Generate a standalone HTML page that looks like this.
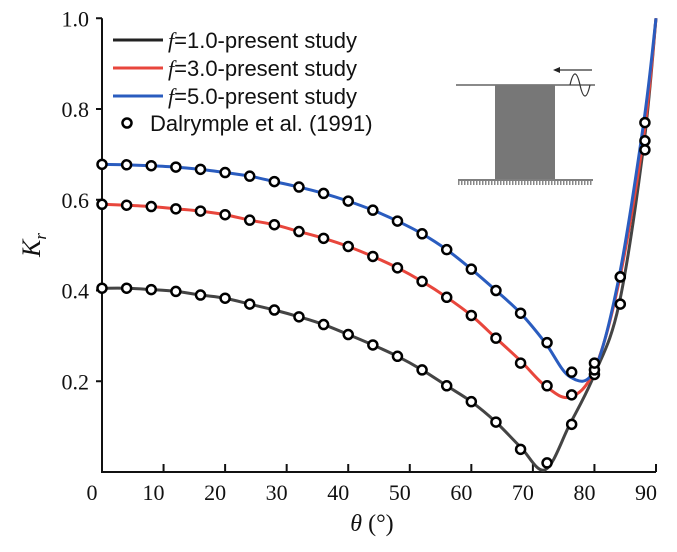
<!DOCTYPE html>
<html><head><meta charset="utf-8"><style>
body{margin:0;background:#fff}
svg text{font-family:"Liberation Serif",serif;fill:#111}
svg .lg{font-family:"Liberation Sans",sans-serif}
</style></head><body>
<svg id="c" width="677" height="547">
<g id="plot"></g>
<g>
 <line x1="113" y1="40" x2="163" y2="40" stroke="#222" stroke-width="3"/>
 <text class="lg" x="168" y="48" font-size="22"><tspan font-style="italic" font-family="Liberation Serif">f</tspan>=1.0-present study</text>
 <line x1="113" y1="68" x2="163" y2="68" stroke="#e8463c" stroke-width="3"/>
 <text class="lg" x="168" y="76" font-size="22"><tspan font-style="italic" font-family="Liberation Serif">f</tspan>=3.0-present study</text>
 <line x1="113" y1="96" x2="163" y2="96" stroke="#2a5cbf" stroke-width="3"/>
 <text class="lg" x="168" y="104" font-size="22"><tspan font-style="italic" font-family="Liberation Serif">f</tspan>=5.0-present study</text>
 <circle cx="127" cy="123" r="4.5" fill="#fff" stroke="#000" stroke-width="2.5"/>
 <text class="lg" x="150" y="131" font-size="22">Dalrymple et al. (1991)</text>
</g>
<g>
 <line x1="456" y1="85" x2="595" y2="85" stroke="#444" stroke-width="1.2"/>
 <rect x="495" y="85" width="60" height="94" fill="#777"/>
 <line x1="458" y1="180" x2="593" y2="180" stroke="#555" stroke-width="1.5"/>
 <line x1="458" y1="183" x2="593" y2="183" stroke="#888" stroke-width="4" stroke-dasharray="1.5 1.5"/>
 <line x1="555" y1="70" x2="592" y2="70" stroke="#333" stroke-width="1.2"/>
 <path d="M553 70 l7 -3 v6z" fill="#222"/>
 <path d="M570 85 q5 -22 10 0 t10 0" fill="none" stroke="#333" stroke-width="1.2"/>
</g>
</svg>
<script>
const angles=[0,4,8,12,16,20,24,28,32,36,40,44,48,52,56,60,64,68,72,76,80,84,88,90];
const kr1=[0.405,0.405,0.402,0.398,0.39,0.383,0.37,0.357,0.342,0.325,0.303,0.28,0.255,0.225,0.19,0.155,0.11,0.055,0.005,0.105,0.215,0.37,0.72,1.0];
const kr3=[0.59,0.588,0.585,0.58,0.575,0.567,0.555,0.545,0.53,0.515,0.497,0.475,0.45,0.42,0.385,0.345,0.295,0.245,0.19,0.165,0.225,0.42,0.74,1.0];
const kr5=[0.678,0.677,0.675,0.672,0.667,0.66,0.652,0.64,0.628,0.614,0.597,0.577,0.553,0.525,0.49,0.447,0.4,0.35,0.285,0.21,0.225,0.43,0.77,1.0];
const expAngles=[0,4,8,12,16,20,24,28,32,36,40,44,48,52,56,60,64,68,72.3,76.3,80,84.2,88.2];
const exp1=[0.405,0.405,0.402,0.398,0.39,0.383,0.37,0.357,0.342,0.325,0.303,0.28,0.255,0.225,0.19,0.155,0.11,0.05,0.02,0.105,0.215,0.37,0.71];
const exp3=[0.59,0.588,0.585,0.58,0.575,0.567,0.555,0.545,0.53,0.515,0.497,0.475,0.45,0.42,0.385,0.345,0.295,0.24,0.19,0.17,0.225,0.43,0.73];
const exp5=[0.678,0.677,0.675,0.672,0.667,0.66,0.652,0.64,0.628,0.614,0.597,0.577,0.553,0.525,0.49,0.447,0.4,0.35,0.285,0.22,0.24,0.43,0.77];
const xTicks=[0,10,20,30,40,50,60,70,80,90];
const yTicks=[0.2,0.4,0.6,0.8,1.0];
const X=a=>102+a*(656-102)/90, Y=v=>472-v*453.75;
const NS="http://www.w3.org/2000/svg", g=document.getElementById('plot');
function mk(t,at){const e=document.createElementNS(NS,t);for(const k in at)e.setAttribute(k,at[k]);g.appendChild(e);return e;}
function path(xs,ys){const p=xs.map((a,i)=>[X(a),Y(ys[i])]);let d=`M${p[0][0]},${p[0][1]}`;
 for(let i=0;i<p.length-1;i++){const p0=p[i-1]||p[i],p1=p[i],p2=p[i+1],p3=p[i+2]||p2;
  d+=` C${p1[0]+(p2[0]-p0[0])/6},${p1[1]+(p2[1]-p0[1])/6} ${p2[0]-(p3[0]-p1[0])/6},${p2[1]-(p3[1]-p1[1])/6} ${p2[0]},${p2[1]}`;}return d;}
let ax=mk('path',{d:`M102,${Y(1)} V472 H656`,fill:'none',stroke:'#111','stroke-width':2});


xTicks.forEach(t=>{let l=mk('line',{x1:X(t),x2:X(t),y1:472,y2:464,stroke:'#111','stroke-width':2});


let tx=mk('text',{x:X(t)-10,y:500,'font-size':22,'text-anchor':'middle'});tx.textContent=t;

});
yTicks.forEach(t=>{let l=mk('line',{x1:96,x2:102,y1:Y(t),y2:Y(t),stroke:'#111','stroke-width':2});


let tx=mk('text',{x:89,y:Y(t)+8,'font-size':22,'text-anchor':'end'});tx.textContent=t.toFixed(1);

});
let xt=mk('text',{x:372,y:531,'font-size':24,'text-anchor':'middle'});xt.innerHTML='<tspan font-style="italic">θ</tspan> (°)';


let yt=mk('text',{transform:'translate(40,245) rotate(-90)','font-size':26,'text-anchor':'middle'});yt.innerHTML='<tspan font-style="italic">K</tspan><tspan font-style="italic" font-size="17" dy="6">r</tspan>';


[[kr1,'#444','series-f1'],[kr3,'#e8463c','series-f3'],[kr5,'#2a5cbf','series-f5']].forEach(([d,c,n])=>{
 let p=mk('path',{d:path(angles,d),fill:'none',stroke:c,'stroke-width':3});
 
 });
[exp1,exp3,exp5].forEach(d=>expAngles.forEach((a,i)=>{
 let c=mk('circle',{cx:X(a),cy:Y(d[i]),r:4.5,fill:'#fff',stroke:'#000','stroke-width':2.5});
 
 }));
</script>
</body></html>
